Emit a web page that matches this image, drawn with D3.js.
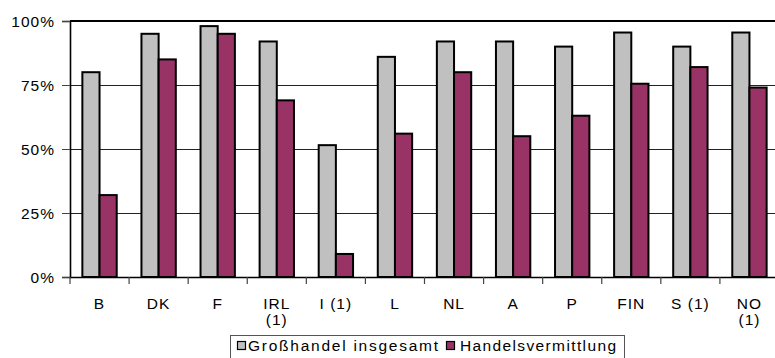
<!DOCTYPE html>
<html>
<head>
<meta charset="utf-8">
<script src="https://cdn.jsdelivr.net/npm/d3@7"></script>
<style>
  html, body { margin: 0; padding: 0; background: #fff; }
  svg { display: block; }
  text { font-family: "Liberation Sans", Arial, sans-serif; fill: #000; }
</style>
</head>
<body>
<svg id="chart" width="775" height="358"></svg>
<script>
// Categories (country codes; "\n" splits a label onto two lines)
const categories = ["B", "DK", "F", "IRL\n(1)", "I (1)", "L", "NL", "A", "P", "FIN", "S (1)", "NO\n(1)"];
// Series names
const seriesNames = ["Großhandel insgesamt", "Handelsvermittlung"];
// Shares in percent
const grosshandel = [80, 95, 98, 92, 51.5, 86, 92, 92, 90, 95.5, 90, 95.5];
const vermittlung = [32, 85, 95, 69, 9, 56, 80, 55, 63, 75.5, 82, 74];
// Y axis ticks
const yTicks = [0, 25, 50, 75, 100];
const yTickLabels = ["0%", "25%", "50%", "75%", "100%"];

const seriesColors = ["#C0C0C0", "#993366"];
const seriesValues = [grosshandel, vermittlung];

const svg = d3.select("#chart");
const plotLeft = 70, plotRight = 779, plotTop = 21, plotBottom = 277;

const x0 = d3.scaleBand().domain(categories).range([plotLeft, plotRight]).padding(0);
const x1 = d3.scaleBand().domain(seriesNames).range([0, x0.bandwidth()])
  .paddingInner(0).paddingOuter(0.72);
const y = d3.scaleLinear().domain([0, 100]).range([plotBottom, plotTop]);

// Horizontal gridlines
svg.append("g").attr("shape-rendering", "crispEdges").selectAll("line")
  .data(yTicks.filter(t => t > 0))
  .join("line")
  .attr("x1", plotLeft).attr("x2", plotRight)
  .attr("y1", d => y(d)).attr("y2", d => y(d))
  .attr("stroke", d => d === 100 ? "#000" : "#222")
  .attr("stroke-width", d => d === 100 ? 2 : 1);

// Bars
const rows = categories.map((c, i) => ({ c, vals: seriesValues.map((s, k) => ({ k, name: seriesNames[k], v: s[i] })) }));
const groups = svg.append("g").selectAll("g")
  .data(rows).join("g")
  .attr("transform", d => `translate(${x0(d.c)},0)`);
groups.selectAll("rect")
  .data(d => d.vals).join("rect")
  .attr("x", d => x1(d.name))
  .attr("width", x1.bandwidth())
  .attr("y", d => y(d.v))
  .attr("height", d => y(0) - y(d.v))
  .attr("fill", d => seriesColors[d.k])
  .attr("stroke", "#000")
  .attr("stroke-width", 2);

// Y axis
const yAxis = d3.axisLeft(y).tickValues(yTicks)
  .tickFormat((d, i) => yTickLabels[i]).tickSize(8).tickPadding(7);
const gy = svg.append("g").attr("transform", `translate(${plotLeft},0)`).call(yAxis);
gy.select(".domain").attr("stroke", "#000").attr("stroke-width", 1.6);
gy.selectAll(".tick line").attr("stroke", "#444").attr("stroke-width", 1)
  .attr("shape-rendering", "crispEdges");
gy.selectAll(".tick text")
  .attr("font-size", 15.5).attr("letter-spacing", "1px")
  .attr("dy", "0.36em").attr("fill", "#000");

// X axis
const xAxis = d3.axisBottom(x0).tickSize(0).tickFormat("");
const gx = svg.append("g").attr("transform", `translate(0,${plotBottom})`).call(xAxis);
gx.select(".domain").attr("stroke", "#000").attr("stroke-width", 1.6);
// Tick marks between categories
gx.append("g").selectAll("line")
  .data(categories)
  .join("line")
  .attr("x1", d => x0(d)).attr("x2", d => x0(d))
  .attr("y1", 0).attr("y2", 7)
  .attr("stroke", "#444").attr("stroke-width", 1.2);
// Category labels, one text element per line
const labelLines = categories.flatMap(c => c.split("\n").map((t, i) => ({ c, t, i })));
gx.append("g").selectAll("text")
  .data(labelLines).join("text")
  .attr("x", d => x0(d.c) + x0.bandwidth() / 2)
  .attr("y", d => 31.5 + d.i * 16.5)
  .attr("text-anchor", "middle")
  .attr("font-size", 15.5)
  .attr("letter-spacing", "1px")
  .attr("fill", "#000")
  .text(d => d.t);

// Legend
const legend = svg.append("g");
legend.append("rect")
  .attr("x", 230.5).attr("y", 335.5)
  .attr("width", 394).attr("height", 30)
  .attr("fill", "#fff").attr("stroke", "#555").attr("stroke-width", 1);
const legendItems = [
  { sx: 237, tx: 248, len: 190 },
  { sx: 446, tx: 460, len: 156 }
];
legendItems.forEach((it, k) => {
  legend.append("rect")
    .attr("x", it.sx + 0.5).attr("y", 341.5)
    .attr("width", 8).attr("height", 8)
    .attr("fill", seriesColors[k]).attr("stroke", "#000").attr("stroke-width", 1.2);
  legend.append("text")
    .attr("x", it.tx).attr("y", 351)
    .attr("font-size", 15.5)
    .attr("textLength", it.len).attr("lengthAdjust", "spacing")
    .text(seriesNames[k]);
});
</script>
</body>
</html>
